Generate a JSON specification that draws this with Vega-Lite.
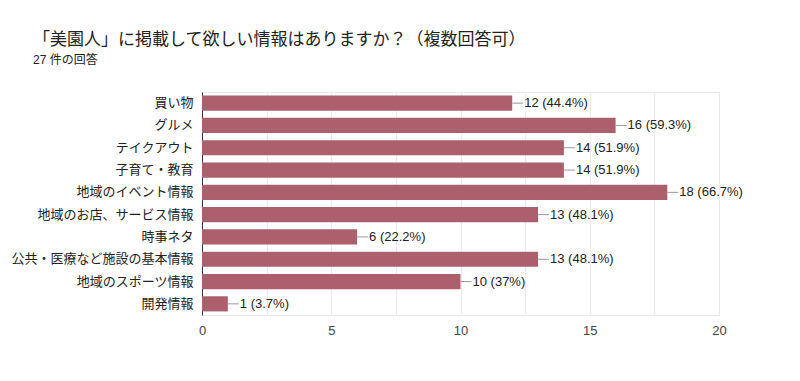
{
  "$schema": "https://vega.github.io/schema/vega-lite/v6.json",
  "autosize": "none",
  "width": 517,
  "height": 223,
  "padding": {"left": 202, "top": 92, "right": 81, "bottom": 66},
  "background": "white",
  "config": {
    "font": "Liberation Sans, Noto Sans CJK JP",
    "view": {"stroke": "#e6e6e6"}
  },
  "title": {
    "text": "「美園人」に掲載して欲しい情報はありますか？（複数回答可）",
    "subtitle": "27 件の回答",
    "anchor": "start",
    "frame": "group",
    "dx": -169,
    "offset": 25,
    "fontSize": 17,
    "fontWeight": "normal",
    "color": "#222222",
    "subtitleFontSize": 12,
    "subtitleColor": "#222222",
    "subtitlePadding": 6,
    "font": "Liberation Sans, Noto Sans CJK JP",
    "subtitleFont": "Liberation Sans, Noto Sans CJK JP"
  },
  "data": {
    "values": [
      {"item": "買い物", "count": 12, "label": "12 (44.4%)"},
      {"item": "グルメ", "count": 16, "label": "16 (59.3%)"},
      {"item": "テイクアウト", "count": 14, "label": "14 (51.9%)"},
      {"item": "子育て・教育", "count": 14, "label": "14 (51.9%)"},
      {"item": "地域のイベント情報", "count": 18, "label": "18 (66.7%)"},
      {"item": "地域のお店、サービス情報", "count": 13, "label": "13 (48.1%)"},
      {"item": "時事ネタ", "count": 6, "label": "6 (22.2%)"},
      {"item": "公共・医療など施設の基本情報", "count": 13, "label": "13 (48.1%)"},
      {"item": "地域のスポーツ情報", "count": 10, "label": "10 (37%)"},
      {"item": "開発情報", "count": 1, "label": "1 (3.7%)"}
    ]
  },
  "encoding": {
    "y": {
      "field": "item",
      "type": "nominal",
      "sort": null,
      "title": null,
      "scale": {"paddingInner": 0.32, "paddingOuter": 0.16},
      "axis": {
        "ticks": false,
        "labelPadding": 9,
        "labelFontSize": 13,
        "labelColor": "#222222",
        "domainColor": "#333333",
        "labelLimit": 300
      }
    }
  },
  "layer": [
    {
      "mark": {"type": "bar", "color": "#ac606d"},
      "encoding": {
        "x": {
          "field": "count",
          "type": "quantitative",
          "scale": {"domain": [0, 20], "nice": false},
          "title": null,
          "axis": {
            "values": [0, 2.5, 5, 7.5, 10, 12.5, 15, 17.5, 20],
            "labelExpr": "datum.value % 5 === 0 ? datum.label : ''",
            "ticks": false,
            "domain": false,
            "gridColor": "#ebebeb",
            "labelFontSize": 13,
            "labelColor": "#444444",
            "labelPadding": 9,
            "labelFlush": false
          }
        }
      }
    },
    {
      "mark": {"type": "rule", "color": "#999999", "x2Offset": 11},
      "encoding": {
        "x": {"field": "count", "type": "quantitative"},
        "x2": {"field": "count"}
      }
    },
    {
      "mark": {"type": "text", "align": "left", "dx": 12, "fontSize": 13, "color": "#222222", "baseline": "middle"},
      "encoding": {
        "x": {"field": "count", "type": "quantitative"},
        "text": {"field": "label"}
      }
    }
  ]
}
